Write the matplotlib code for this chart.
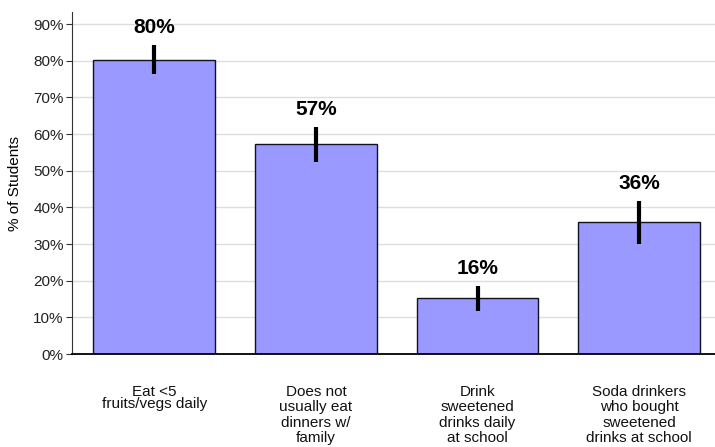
import numpy as np
import matplotlib
matplotlib.use('Agg')
import matplotlib.pyplot as plt

plt.rcParams['font.family'] = ['Liberation Sans', 'DejaVu Sans']

# Data
categories = ['Eat <5\nfruits/vegs daily',
              'Does not\nusually eat\ndinners w/\nfamily',
              'Drink\nsweetened\ndrinks daily\nat school',
              'Soda drinkers\nwho bought\nsweetened\ndrinks at school']
values = [80.2, 57.3, 15.4, 35.9]
err_low = [76.4, 52.4, 11.7, 30.0]
err_high = [84.3, 61.9, 18.5, 41.7]
labels = ['80%', '57%', '16%', '36%']

# line spacing of each category label
spacings = [0.78, 1.13, 1.13, 1.13]

fig = plt.figure(figsize=(7.15, 4.47), dpi=100)
ax = fig.add_axes([0.1007, 0.208, 0.8993, 0.765])

x = np.arange(len(values))
ax.bar(x, values, width=0.755, color='#9999ff', edgecolor='#111122', linewidth=1, zorder=2)

# Error bars
for xi, lo, hi in zip(x, err_low, err_high):
    ax.plot([xi, xi], [lo, hi], color='black', linewidth=3, solid_capstyle='butt', zorder=3)

# Value labels
for xi, hi, lab in zip(x, err_high, labels):
    ax.text(xi, hi + 2.2, lab, ha='center', va='bottom', fontsize=15, fontweight='bold')

# Category labels
for xi, cat, ls in zip(x, categories, spacings):
    ax.annotate(cat, xy=(xi, 0), xycoords=('data', 'axes fraction'),
                xytext=(0, -31), textcoords='offset pixels',
                ha='center', va='top', fontsize=11, color='#111111',
                linespacing=ls, multialignment='center')

ax.set_xlim(-0.51, 3.47)
ax.set_ylim(0, 93.3)
ax.set_yticks(np.arange(0, 91, 10))
ax.set_yticklabels([f'{v}%' for v in range(0, 91, 10)], fontsize=11, color='#222222')
ax.set_xticks(x)
ax.set_xticklabels([])
ax.tick_params(axis='x', length=0)
ax.tick_params(axis='y', length=4, color='#333333', pad=2)
ax.yaxis.grid(True, color='#dddddd', linewidth=1, zorder=0)
ax.set_axisbelow(True)

for s in ['top', 'right']:
    ax.spines[s].set_visible(False)
ax.spines['left'].set_color('#333333')
ax.spines['bottom'].set_color('black')
ax.spines['bottom'].set_linewidth(1.3)

ax.set_ylabel('% of Students', fontsize=11, labelpad=8)

fig.savefig('out.png', dpi=100)
